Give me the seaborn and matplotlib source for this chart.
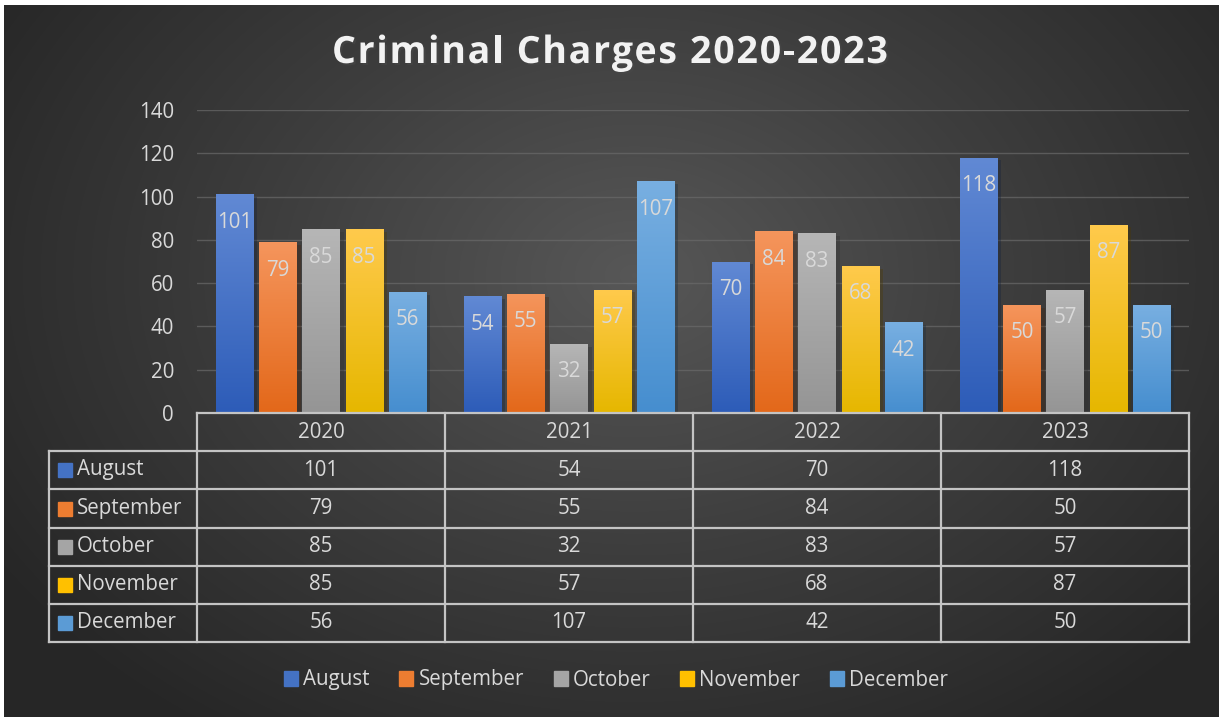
import numpy as np
import pandas as pd
import seaborn as sns
import matplotlib.pyplot as plt
from matplotlib.patches import Rectangle
from matplotlib import patheffects as pe
from matplotlib.colors import LinearSegmentedColormap

years = ["2020", "2021", "2022", "2023"]
months = ["August", "September", "October", "November", "December"]
august = [101, 54, 70, 118]
september = [79, 55, 84, 50]
october = [85, 32, 83, 57]
november = [85, 57, 68, 87]
december = [56, 107, 42, 50]
series = [august, september, october, november, december]
title = "Criminal Charges 2020-2023"

# gradient colours (top, bottom) for each month
grad = {
    "August": ("#6189D4", "#2D5CB8"),
    "September": ("#F5955C", "#E3681A"),
    "October": ("#B6B6B6", "#959595"),
    "November": ("#FFCA4C", "#E6B700"),
    "December": ("#78AFE1", "#468ECF"),
}
mid = {m: c for m, c in zip(months, ["#4472C4", "#ED7D31", "#A5A5A5", "#FFC000", "#5B9BD5"])}

df = pd.DataFrame({
    "year": np.repeat(years, len(months)),
    "month": months * len(years),
    "value": [series[j][i] for i in range(len(years)) for j in range(len(months))],
})

W, H = 1219, 717
fig = plt.figure(figsize=(W / 100, H / 100), dpi=100, facecolor="white")
plt.rcParams["font.family"] = ["Open Sans", "DejaVu Sans"]
txt = "#D9D9D9"
fs = 14.8

# background radial gradient
bg = fig.add_axes([4 / W, 0, 1 - 4 / W, 1 - 5 / H], zorder=-10)
yy, xx = np.mgrid[0:712, 0:1215]
r = np.sqrt(((xx - 630) / 760) ** 2 + ((yy - 270) / 560) ** 2)
r = np.clip(r, 0, 1)
bg_cmap = LinearSegmentedColormap.from_list("bg", ["#575757", "#3d3d3d", "#262626"])
bg.imshow(r, cmap=bg_cmap, aspect="auto", vmin=0, vmax=1)
bg.axis("off")

# bar axes
ax = fig.add_axes([197 / W, 1 - 413 / H, (1189 - 197) / W, (413 - 110) / H])
ax.set_facecolor("none")
sns.barplot(data=df, x="year", y="value", hue="month", palette=mid,
            width=0.87, gap=0.14, ax=ax, legend=False, saturation=1, zorder=3)
ax.set_xlim(-0.5, 3.5)
ax.set_ylim(0, 140)
ax.set_yticks(range(0, 141, 20))
ax.yaxis.grid(True, color="#6a6a6a", lw=1, alpha=0.7)
ax.set_axisbelow(True)
ax.tick_params(axis="y", length=0, pad=16.5, labelsize=fs, labelcolor=txt)
ax.tick_params(axis="x", length=0, labelbottom=False)
ax.set_xlabel("")
ax.set_ylabel("")
for s in ax.spines.values():
    s.set_visible(False)

for month, cont, vals in zip(months, ax.containers, series):
    cmap = LinearSegmentedColormap.from_list(month, [grad[month][1], grad[month][0]])
    for bar, v in zip(cont, vals):
        bar.set_path_effects([pe.SimplePatchShadow(offset=(3, -2), alpha=0.35), pe.Normal()])
        x0, w, h = bar.get_x(), bar.get_width(), bar.get_height()
        im = ax.imshow(np.linspace(0, 1, 100).reshape(-1, 1), cmap=cmap, origin="lower",
                       extent=[x0, x0 + w, 0, h], aspect="auto", zorder=4)
        im.set_clip_path(bar)
        ax.annotate(f"{v}", (x0 + w / 2, h), xytext=(0, -28), textcoords="offset pixels",
                    ha="center", va="center", color=txt, fontsize=fs, zorder=6)
ax.set_xlim(-0.5, 3.5)
ax.set_ylim(0, 140)

# data table below the plot
tb = fig.add_axes([0, 0, 1, 1], zorder=5)
tb.set_xlim(0, W)
tb.set_ylim(H, 0)
tb.axis("off")
tb.patch.set_alpha(0)
lc = "#C4C4C4"
cols = [197, 445, 693, 941, 1189]
rows = [413, 451, 489, 528, 566, 604, 642]
tb.plot([197, 1189], [413, 413], color=lc, lw=1.6)
for y in rows[1:]:
    tb.plot([49, 1189], [y, y], color=lc, lw=1.6)
tb.plot([49, 49], [451, 642], color=lc, lw=1.6)
for x in cols:
    tb.plot([x, x], [413, 642], color=lc, lw=1.6)
for i, yr in enumerate(years):
    cx = (cols[i] + cols[i + 1]) / 2
    tb.text(cx, (rows[0] + rows[1]) / 2, yr, ha="center", va="center", color=txt, fontsize=fs)
    for j, vals in enumerate(series):
        tb.text(cx, (rows[j + 1] + rows[j + 2]) / 2, f"{vals[i]}", ha="center", va="center",
                color=txt, fontsize=fs)
for j, m in enumerate(months):
    cy = (rows[j + 1] + rows[j + 2]) / 2
    tb.add_patch(Rectangle((58, cy - 7), 14, 14, color=mid[m]))
    tb.text(77, cy, m, ha="left", va="center", color=txt, fontsize=fs)

# legend
handles = [Rectangle((0, 0), 1, 1, color=mid[m]) for m in months]
leg = fig.legend(handles, months, loc="center", bbox_to_anchor=(616 / W, 1 - 680 / H), ncol=5,
                 frameon=False, handlelength=0.68, handleheight=0.72, handletextpad=0.25,
                 columnspacing=1.45, fontsize=fs)
for t in leg.get_texts():
    t.set_color(txt)

# title with letter spacing, drawn char by char
renderer = fig.canvas.get_renderer()
tkw = dict(fontsize=27, fontweight="bold", color="#F2F2F2", va="center", ha="left")


def width_px(s):
    t = fig.text(0, 0, s + "|", **tkw)
    w = t.get_window_extent(renderer).width
    t.remove()
    t = fig.text(0, 0, "|", **tkw)
    w -= t.get_window_extent(renderer).width
    t.remove()
    return w


natural = width_px(title[:-1]) + width_px(title[-1])
x_start, x_end = 332, 888
spacing = (x_end - x_start - natural) / (len(title) - 1)
for k, ch in enumerate(title):
    if ch == " ":
        continue
    xk = x_start + width_px(title[:k]) + k * spacing
    fig.text(xk / W, 1 - 53 / H, ch, **tkw,
             path_effects=[pe.withSimplePatchShadow(offset=(1.5, -1.5), alpha=0.5)])

fig.savefig("out.png", dpi=100, facecolor="white")
